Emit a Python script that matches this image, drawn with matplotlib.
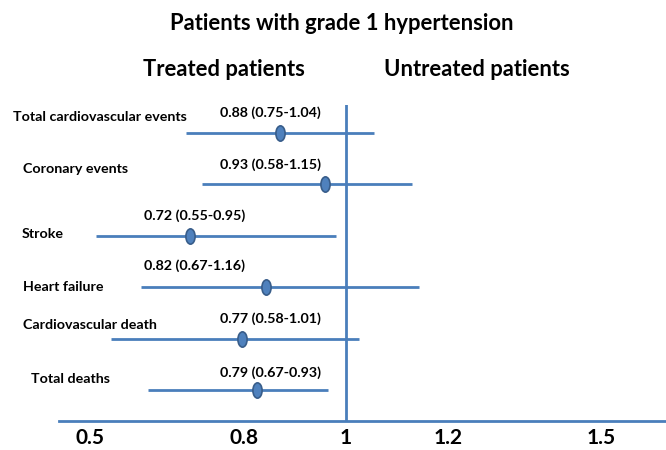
import matplotlib
matplotlib.use("Agg")
import matplotlib.pyplot as plt
from matplotlib.path import Path
from matplotlib.transforms import Affine2D

# outcomes, top to bottom
outcomes = [
    "Total cardiovascular events",
    "Coronary events",
    "Stroke",
    "Heart failure",
    "Cardiovascular death",
    "Total deaths",
]
# printed estimates (hazard ratio and 95% CI)
estimate_labels = [
    "0.88 (0.75-1.04)",
    "0.93 (0.58-1.15)",
    "0.72 (0.55-0.95)",
    "0.82 (0.67-1.16)",
    "0.77 (0.58-1.01)",
    "0.79 (0.67-0.93)",
]
# where the marks sit on the drawn axis
point = [0.871, 0.959, 0.695, 0.844, 0.797, 0.826]
ci_low = [0.687, 0.718, 0.511, 0.599, 0.540, 0.613]
ci_high = [1.055, 1.129, 0.981, 1.143, 1.026, 0.965]

x_ticks = [0.5, 0.8, 1, 1.2, 1.5]
x_tick_labels = ["0.5", "0.8", "1", "1.2", "1.5"]

LINE = "#4a7ebb"
DOT = "#4f81bd"
DOT_EDGE = "#385d8a"
FONT = "Lato"

ellipse = Path.unit_circle().transformed(Affine2D().scale(0.6, 1.0))

fig = plt.figure(figsize=(6.66, 4.5), dpi=100)
ax = fig.add_axes([59 / 666, 29 / 450, 607 / 666, 316 / 450])
ax.set_xlim(0.4384, 1.6273)
ax.set_ylim(5.603, -0.545)

for sp in ["top", "right", "left"]:
    ax.spines[sp].set_visible(False)
ax.spines["bottom"].set_color(LINE)
ax.spines["bottom"].set_linewidth(2)
ax.set_yticks([])
ax.set_xticks(x_ticks)
ax.set_xticklabels(x_tick_labels, fontsize=15, fontweight="bold", family=FONT)
ax.tick_params(axis="x", length=0, pad=5)

ax.axvline(1, color=LINE, lw=2)

for i in range(len(outcomes)):
    ax.plot([ci_low[i], ci_high[i]], [i, i], color=LINE, lw=2, solid_capstyle="butt")
    ax.plot(point[i], i, marker=ellipse, markersize=11, color=DOT,
            markeredgecolor=DOT_EDGE, markeredgewidth=1.2, zorder=3)

# text sits in figure pixels, offset upward from each row's line
def row_pixel(i):
    y_disp = ax.transData.transform((1, i))[1]
    return 450 - y_disp

label_x = [13, 23, 22, 23, 23, 31]
label_up = [16, 15, 2, 0, 14, 11]
est_x = [270, 270, 195, 195, 270, 270]
est_up = [20, 20, 20, 22, 20, 17]
for i, name in enumerate(outcomes):
    ry = row_pixel(i)
    fig.text(label_x[i] / 666, 1 - (ry - label_up[i]) / 450, name, fontsize=10.3,
             fontweight="bold", family=FONT, ha="left", va="center")
    fig.text(est_x[i] / 666, 1 - (ry - est_up[i]) / 450, estimate_labels[i],
             fontsize=10.3, fontweight="bold", family=FONT, ha="center", va="center")

fig.text(342 / 666, 1 - 24 / 450, "Patients with grade 1 hypertension",
         fontsize=15.8, fontweight="bold", family=FONT, ha="center", va="center")
fig.text(224 / 666, 1 - 69 / 450, "Treated patients",
         fontsize=15.8, fontweight="bold", family=FONT, ha="center", va="center")
fig.text(477 / 666, 1 - 69 / 450, "Untreated patients",
         fontsize=15.8, fontweight="bold", family=FONT, ha="center", va="center")

fig.savefig("out.png", dpi=100)
